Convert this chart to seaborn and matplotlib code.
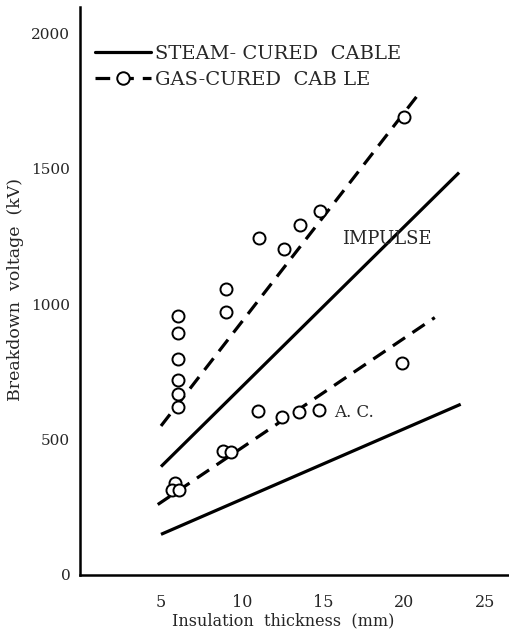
import matplotlib
matplotlib.use("Agg")
import matplotlib.pyplot as plt
from matplotlib.lines import Line2D
import seaborn as sns
import pandas as pd

# --- data ---
# steam-cured cable (solid lines, fitted trends)
steam_imp_x = [5.0, 23.4]
steam_imp_y = [400, 1485]
steam_ac_x = [5.0, 23.5]
steam_ac_y = [150, 630]
# gas-cured cable (dashed trend lines)
gas_imp_x = [5.0, 21.1]
gas_imp_y = [550, 1790]
gas_ac_x = [4.8, 21.9]
gas_ac_y = [260, 950]
# gas-cured measured points
gas_imp_pts_x = [6.05, 6.05, 6.05, 6.05, 6.05, 6.05, 9.0, 9.0, 11.05, 12.6, 13.6, 14.8, 20.0]
gas_imp_pts_y = [956, 893, 797, 720, 668, 620, 1055, 971, 1244, 1203, 1292, 1343, 1690]
gas_ac_pts_x = [5.85, 5.65, 6.1, 8.8, 9.3, 11.0, 12.5, 13.5, 14.75, 19.9]
gas_ac_pts_y = [339, 314, 314, 458, 454, 605, 583, 601, 609, 782]

x_ticks = [5, 10, 15, 20, 25]
y_ticks = [0, 500, 1000, 1500, 2000]

sns.set_style("white")
plt.rcParams['font.family'] = ['DejaVu Serif']

fig = plt.figure(figsize=(5.10, 6.32), dpi=100)
W, H = 510, 632
ax = fig.add_axes([80 / W, 57 / H, 430 / W, 568 / H])

lw = 2.3
for xs, ys, dashed in [(steam_imp_x, steam_imp_y, False), (steam_ac_x, steam_ac_y, False),
                       (gas_imp_x, gas_imp_y, True), (gas_ac_x, gas_ac_y, True)]:
    df = pd.DataFrame({"x": xs, "y": ys})
    sns.lineplot(data=df, x="x", y="y", ax=ax, color="black", linewidth=lw,
                 estimator=None, sort=False)
    line = ax.lines[-1]
    line.set_solid_capstyle("butt")
    if dashed:
        line.set_dashes((4.6, 2.8))
        line.set_dash_capstyle("butt")

pts = pd.DataFrame({"x": gas_imp_pts_x + gas_ac_pts_x, "y": gas_imp_pts_y + gas_ac_pts_y})
sns.scatterplot(data=pts, x="x", y="y", ax=ax, s=75, facecolor="white",
                edgecolor="black", linewidth=1.4, zorder=5)

ax.set_xlim(0, 430 / 16.2)
ax.set_ylim(0, 568 / 0.271)
ax.set_xticks(x_ticks)
ax.set_yticks(y_ticks)
ax.tick_params(axis="y", direction="in", length=16.5, width=1.8, pad=7, labelsize=11)
ax.tick_params(axis="x", direction="in", length=12, width=1.3, pad=14, labelsize=11.5)
for s in ["top", "right"]:
    ax.spines[s].set_visible(False)
for s in ["left", "bottom"]:
    ax.spines[s].set_linewidth(1.8)
    ax.spines[s].set_color("black")

ax.set_xlabel("Insulation  thickness  (mm)", fontsize=11.5)
ax.set_ylabel("Breakdown  voltage  (kV)", fontsize=12.5)
ax.xaxis.set_label_coords((283 - 80) / 430, (575 - 612) / 568)
ax.yaxis.set_label_coords((24 - 80) / 430, (575 - 290) / 568)

ax.text(16.2, 1240, "IMPULSE", fontsize=13, va="center", ha="left")
ax.text(15.7, 598, "A. C.", fontsize=12, va="center", ha="left")

handles = [Line2D([0], [0], color="black", linewidth=lw),
           Line2D([0], [0], color="black", linewidth=lw, dashes=(4.6, 2.8), marker="o",
                  markersize=9, markerfacecolor="white", markeredgewidth=1.4)]
leg = ax.legend(handles, ["STEAM- CURED  CABLE", "GAS-CURED  CAB LE"], frameon=False,
                loc="upper left", bbox_to_anchor=((95 - 80) / 430, (575 - 45) / 568),
                fontsize=14, handlelength=2.9, handletextpad=0.2, labelspacing=0.4,
                borderaxespad=0, borderpad=0)

fig.savefig("out.png", dpi=100)
